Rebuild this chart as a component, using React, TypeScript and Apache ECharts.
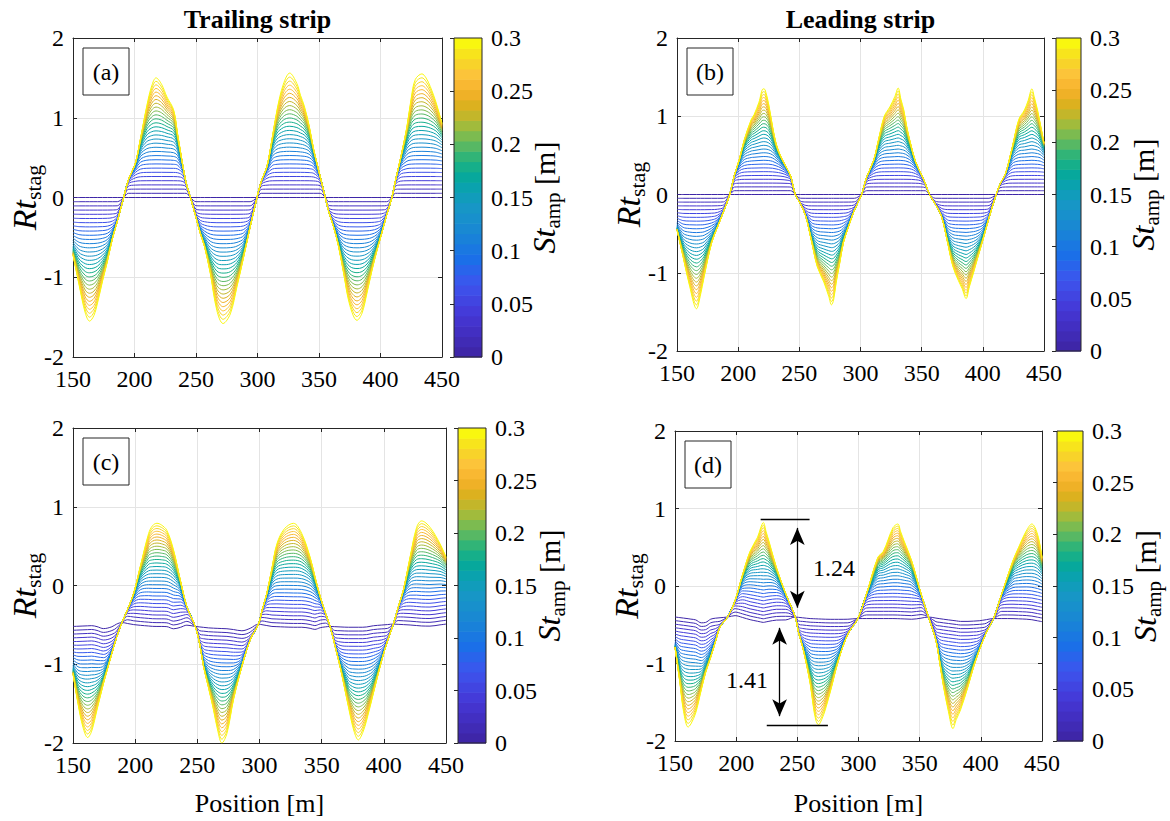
import React, { useEffect, useRef } from "react";
import * as echarts from "echarts";

// ---------------- data ----------------
const stAmpLevels = [0, 0.01, 0.02, 0.03, 0.04, 0.05, 0.06, 0.07, 0.08, 0.09, 0.1, 0.11, 0.12, 0.13, 0.14, 0.15, 0.16, 0.17, 0.18, 0.19, 0.2, 0.21, 0.22, 0.23, 0.24, 0.25, 0.26, 0.27, 0.28, 0.29, 0.3];
const colorbarTicks = [0, 0.05, 0.1, 0.15, 0.2, 0.25, 0.3];
const positionTicks = [150, 200, 250, 300, 350, 400, 450];
const rtTicks = [-2, -1, 0, 1, 2];
const panelTitles = ["Trailing strip", "Leading strip"];
const panelTags = ["(a)", "(b)", "(c)", "(d)"];

// outermost (St_amp = 0.3) curve of each panel: [position, Rt_stag]
const topCurveA: [number, number][] = [[150,-0.72],[155,-1.1],[160,-1.45],[163.5,-1.55],[167,-1.48],[170,-1.32],[174,-1.05],[178,-0.8],[182,-0.52],[186,-0.3],[191.2,0],[195,0.22],[200.7,0.43],[205,0.75],[210,1.15],[214,1.4],[217.5,1.5],[222,1.42],[226.4,1.26],[231.8,1.1],[235,0.8],[239.4,0.39],[242,0.18],[245.5,0],[250,-0.25],[253.5,-0.45],[257,-0.62],[261.6,-0.95],[267,-1.42],[272,-1.58],[277.9,-1.46],[283.3,-1.12],[288.7,-0.75],[294,-0.37],[299.6,0],[303,0.2],[307.7,0.39],[312,0.75],[315.9,1.1],[321,1.42],[326.2,1.56],[332,1.43],[335,1.28],[338,1.15],[342,0.9],[345.7,0.6],[351,0.26],[355.1,0],[358,-0.18],[361.9,-0.37],[366,-0.62],[370,-0.95],[375,-1.35],[380.9,-1.54],[385,-1.45],[389,-1.2],[393,-0.92],[397.2,-0.66],[401,-0.45],[405,-0.22],[409.3,0],[412,0.2],[416,0.47],[421.5,0.89],[425,1.25],[428.3,1.48],[433.7,1.55],[437,1.5],[440.5,1.39],[445,1.2],[450,0.93]];
const topCurveB: [number, number][] = [[150,-0.45],[155,-0.8],[160,-1.15],[166,-1.46],[169,-1.3],[172.2,-1.05],[178.3,-0.62],[183,-0.42],[188,-0.22],[193.1,0],[197,0.25],[201,0.45],[205,0.7],[210.7,0.96],[213,1.02],[217,1.18],[220.5,1.35],[222,1.34],[225,1.15],[228,0.88],[231,0.65],[235,0.48],[240,0.33],[243,0.23],[246.7,0],[251,-0.12],[255.3,-0.28],[260,-0.6],[264.6,-0.92],[270,-1.12],[274,-1.3],[276.3,-1.41],[278,-1.35],[280,-1.14],[283,-0.88],[286,-0.62],[290,-0.42],[295,-0.2],[300.9,0],[305,0.22],[310.8,0.44],[315,0.72],[319.4,1.0],[324,1.12],[328,1.25],[330.8,1.36],[333,1.22],[335.4,1.08],[338,0.85],[341.6,0.61],[345,0.42],[349.3,0.27],[353,0.14],[356.4,0],[361,-0.12],[366.2,-0.28],[371,-0.6],[375.5,-0.92],[380,-1.1],[383,-1.2],[386.3,-1.33],[389,-1.18],[392.4,-1.0],[396,-0.8],[400.1,-0.58],[405,-0.3],[410.9,0],[414,0.13],[418.6,0.27],[424,0.6],[429.4,0.96],[434,1.08],[437,1.2],[440.1,1.35],[442,1.25],[444.7,1.08],[447,0.9],[450,0.66]];
const topCurveC: [number, number][] = [[150,-1.12],[154,-1.5],[158,-1.8],[161.8,-1.93],[165,-1.85],[169.3,-1.58],[174.6,-1.24],[181.3,-0.86],[185,-0.66],[189.4,-0.47],[194,-0.3],[198.8,-0.1],[204.1,0.24],[210.8,0.66],[214,0.76],[217.5,0.79],[221,0.77],[225.5,0.7],[230.9,0.45],[236.3,0.07],[241.6,-0.27],[248.3,-0.52],[252,-0.75],[255,-1.03],[259,-1.3],[263,-1.58],[266.5,-1.85],[269.7,-2.0],[273.8,-1.88],[279.1,-1.45],[285.8,-1.03],[292.5,-0.69],[299.2,-0.49],[302,-0.32],[305.9,-0.1],[310,0.22],[314,0.53],[320,0.72],[327.3,0.79],[334,0.66],[340.7,0.36],[344.5,0.12],[348.8,-0.14],[353,-0.35],[356.8,-0.52],[360.5,-0.75],[364.8,-1.03],[371.5,-1.54],[376,-1.85],[379.5,-1.96],[383,-1.87],[386.2,-1.71],[391.6,-1.37],[398.3,-0.95],[403,-0.7],[407.7,-0.49],[411.5,-0.28],[415.7,-0.06],[421.1,0.36],[426.4,0.74],[430.4,0.82],[437.1,0.74],[445.2,0.53],[450,0.36]];
const topCurveD: [number, number][] = [[150,-0.79],[154,-1.25],[157,-1.62],[160.7,-1.82],[163,-1.78],[166.9,-1.64],[171.5,-1.34],[175,-1.12],[179.2,-0.92],[183,-0.72],[186.8,-0.53],[193,-0.4],[199.1,-0.19],[205.3,0.15],[211.4,0.45],[217.5,0.63],[220,0.75],[222.2,0.82],[224.5,0.7],[226.8,0.58],[232.9,0.24],[240.5,-0.1],[248.3,-0.4],[251,-0.6],[254.4,-0.79],[260.5,-1.26],[263,-1.55],[265.1,-1.73],[267.3,-1.79],[270,-1.72],[272.8,-1.6],[277.4,-1.34],[283.6,-0.96],[291.3,-0.62],[299.5,-0.42],[306.6,-0.1],[315.8,0.37],[320.4,0.45],[328.1,0.75],[332.1,0.8],[334.5,0.7],[337.3,0.58],[343.4,0.33],[351.1,-0.1],[357.2,-0.4],[363.3,-0.7],[366.5,-1.0],[369.5,-1.3],[373.5,-1.62],[377.2,-1.84],[380,-1.72],[383.4,-1.6],[389.5,-1.3],[394,-1.05],[398.7,-0.83],[404.5,-0.6],[410.4,-0.42],[417.1,-0.1],[426.3,0.33],[430.9,0.5],[437.1,0.71],[441.7,0.8],[446.3,0.67],[450,0.37]];

// St_amp = 0 curve of the lower panels (upper panels sit at 0)
const baseCurveC: [number, number][] = [[150,-0.52],[165,-0.51],[172,-0.53],[178,-0.57],[183,-0.5],[189.4,-0.47],[200,-0.5],[215,-0.52],[225,-0.52],[233,-0.56],[240,-0.5],[248.3,-0.52],[260,-0.54],[275,-0.55],[288,-0.58],[299.2,-0.49],[310,-0.52],[325,-0.53],[338,-0.53],[344,-0.56],[350,-0.53],[356.8,-0.52],[370,-0.53],[385,-0.53],[392,-0.51],[400,-0.5],[407.7,-0.49],[420,-0.5],[435,-0.52],[450,-0.49]];
const baseCurveD: [number, number][] = [[150,-0.4],[160,-0.42],[168,-0.44],[173,-0.49],[180,-0.42],[193,-0.4],[200,-0.38],[210,-0.43],[222,-0.47],[232,-0.44],[240,-0.44],[248.3,-0.4],[260,-0.42],[275,-0.43],[290,-0.43],[299.5,-0.42],[315,-0.42],[330,-0.42],[345,-0.43],[357.2,-0.4],[370,-0.43],[385,-0.46],[398,-0.45],[410.4,-0.42],[425,-0.42],[440,-0.43],[450,-0.46]];

// panel (d) annotation
const upperSpanLine: [number, number][] = [[220, 0.86], [260, 0.86]];
const upperArrow: [number, number][] = [[250, 0.75], [250, -0.28]];
const lowerArrow: [number, number][] = [[235.5, -0.54], [235.5, -1.68]];
const lowerSpanLine: [number, number][] = [[225, -1.8], [275, -1.8]];
const spanLabels = ["1.24", "1.41"];

// ---------------- helpers ----------------
const FONT = "Liberation Serif";
const AX = "#262626";

const parulaStops: [number, string][] = [
  [0.0, "#3E26A8"], [0.12, "#4537D6"], [0.22, "#3C55EE"], [0.3, "#1B6FE8"],
  [0.38, "#1985D6"], [0.47, "#1797C5"], [0.53, "#0AA1B0"], [0.58, "#06AB95"],
  [0.63, "#2DB479"], [0.68, "#66BA5C"], [0.73, "#9EBC3E"], [0.77, "#C6B528"],
  [0.81, "#E3AF1C"], [0.85, "#F7B22E"], [0.9, "#FCC43A"], [0.95, "#F6DA22"], [1.0, "#F9F70F"],
];
function hexRgb(h: string) {
  return [parseInt(h.slice(1, 3), 16), parseInt(h.slice(3, 5), 16), parseInt(h.slice(5, 7), 16)];
}
function parula(t: number) {
  t = Math.max(0, Math.min(1, t));
  for (let i = 1; i < parulaStops.length; i++) {
    const [t1, c1] = parulaStops[i];
    const [t0, c0] = parulaStops[i - 1];
    if (t <= t1) {
      const f = (t - t0) / (t1 - t0);
      const a = hexRgb(c0), b = hexRgb(c1);
      return `rgb(${Math.round(a[0] + (b[0] - a[0]) * f)},${Math.round(a[1] + (b[1] - a[1]) * f)},${Math.round(a[2] + (b[2] - a[2]) * f)})`;
    }
  }
  return parulaStops[parulaStops.length - 1][1];
}
function lookup(pts: [number, number][] | null, x: number) {
  if (!pts) return 0;
  if (x <= pts[0][0]) return pts[0][1];
  for (let i = 1; i < pts.length; i++) {
    if (x <= pts[i][0]) {
      const f = (x - pts[i - 1][0]) / (pts[i][0] - pts[i - 1][0]);
      return pts[i - 1][1] + (pts[i][1] - pts[i - 1][1]) * f;
    }
  }
  return pts[pts.length - 1][1];
}
// curves for every St_amp level: saturating between the St=0 curve and the St=0.3 curve
function family(top: [number, number][], base: [number, number][] | null) {
  const p = 3;
  const b = top.map(([x]) => lookup(base, x));
  const s = top.map(([, y], i) => y - b[i]);
  const P = Math.max(...s.map(Math.abs));
  const stMax = stAmpLevels[stAmpLevels.length - 1];
  return stAmpLevels.map((st) => {
    const r = st / stMax;
    if (r >= 1) return top.map(([x, y]) => [x, y]);
    if (r <= 0) return top.map(([x], i) => [x, b[i]]);
    const L = P / Math.pow(Math.pow(1 / r, p) - 1, 1 / p);
    return top.map(([x], i) => [x, b[i] + s[i] / Math.pow(1 + Math.pow(Math.abs(s[i]) / L, p), 1 / p)]);
  });
}

const plots = [
  { left: 73, top: 38, width: 369, height: 319, cbLeft: 454, cbWidth: 28, top_: topCurveA, base: null, ylab: 24, cblab: 544 },
  { left: 677, top: 38, width: 367, height: 313, cbLeft: 1056, cbWidth: 25, top_: topCurveB, base: null, ylab: 628, cblab: 1143 },
  { left: 73, top: 428, width: 373, height: 315, cbLeft: 458, cbWidth: 28, top_: topCurveC, base: baseCurveC, ylab: 24, cblab: 549 },
  { left: 675, top: 431, width: 367, height: 310, cbLeft: 1057, cbWidth: 26, top_: topCurveD, base: baseCurveD, ylab: 626, cblab: 1145 },
];

function buildOption() {
  const grid: any[] = [];
  const xAxis: any[] = [];
  const yAxis: any[] = [];
  const series: any[] = [];
  const graphic: any[] = [];
  const xMin = positionTicks[0], xMax = positionTicks[positionTicks.length - 1];
  const yMin = rtTicks[0], yMax = rtTicks[rtTicks.length - 1];
  const cMin = colorbarTicks[0], cMax = colorbarTicks[colorbarTicks.length - 1];
  const tickLabel = { fontFamily: FONT, fontSize: 24, color: "#000" };

  plots.forEach((pl) => grid.push({ left: pl.left, top: pl.top, width: pl.width, height: pl.height }));
  plots.forEach((pl) => grid.push({ left: pl.cbLeft, top: pl.top, width: pl.cbWidth, height: pl.height }));

  plots.forEach((pl, p) => {
    const common = {
      type: "value", gridIndex: p,
      axisLine: { show: true, onZero: false, lineStyle: { color: AX, width: 1 } },
      axisTick: { show: true, inside: true, length: 4, lineStyle: { color: AX } },
    };
    xAxis.push({ ...common, position: "bottom", min: xMin, max: xMax, interval: positionTicks[1] - positionTicks[0],
      axisLabel: { ...tickLabel, margin: 10 }, splitLine: { show: true, lineStyle: { color: "#e4e4e4", width: 1 } } });
    xAxis.push({ ...common, position: "top", min: xMin, max: xMax, interval: positionTicks[1] - positionTicks[0],
      axisLabel: { show: false }, splitLine: { show: false } });
    yAxis.push({ ...common, position: "left", min: yMin, max: yMax, interval: rtTicks[1] - rtTicks[0],
      axisLabel: { ...tickLabel, margin: 9 }, splitLine: { show: true, lineStyle: { color: "#e4e4e4", width: 1 } } });
    yAxis.push({ ...common, position: "right", min: yMin, max: yMax, interval: rtTicks[1] - rtTicks[0],
      axisLabel: { show: false }, splitLine: { show: false } });
  });
  plots.forEach((pl, p) => {
    xAxis.push({ type: "value", gridIndex: 4 + p, min: 0, max: 1, show: false });
    yAxis.push({ type: "value", gridIndex: 4 + p, position: "right", min: cMin, max: cMax,
      interval: colorbarTicks[1] - colorbarTicks[0], z: 10,
      axisLine: { show: false }, splitLine: { show: false },
      axisTick: { show: true, inside: true, length: 4, lineStyle: { color: AX } },
      axisLabel: { ...tickLabel, margin: 9, formatter: (v: number) => String(Math.round(v * 100) / 100) } });
  });

  plots.forEach((pl, p) => {
    const curves = family(pl.top_, pl.base);
    curves.forEach((data, k) => {
      series.push({
        type: "line", xAxisIndex: 2 * p, yAxisIndex: 2 * p, data,
        symbol: "none", showSymbol: false, smooth: 0.35, silent: true, clip: true,
        lineStyle: { width: 1, color: parula(stAmpLevels[k] / cMax) },
        z: 2,
      });
    });
  });

  // annotation of panel (d)
  const seg = (pts: [number, number][], sym: string) => [
    { coord: pts[0], symbol: sym }, { coord: pts[1], symbol: sym },
  ];
  series.push({
    type: "line", xAxisIndex: 6, yAxisIndex: 6, data: [], silent: true,
    markLine: {
      silent: true, animation: false, label: { show: false }, symbolSize: [11, 17],
      lineStyle: { color: "#000", width: 1.3, type: "solid" }, itemStyle: { color: "#000" },
      data: [seg(upperSpanLine, "none"), seg(upperArrow, "arrow"), seg(lowerArrow, "arrow"), seg(lowerSpanLine, "none")],
    },
    z: 5,
  });

  // colorbars
  const nBands = stAmpLevels.length;
  const bandData = stAmpLevels.map((_, j) => [j, cMin + (j * (cMax - cMin)) / nBands, cMin + ((j + 1) * (cMax - cMin)) / nBands]);
  const bandColors = stAmpLevels.map((_, j) => parula(j / (nBands - 1)));
  plots.forEach((pl, p) => {
    series.push({
      type: "custom", xAxisIndex: 8 + p, yAxisIndex: 8 + p, data: bandData, silent: true,
      renderItem: (params: any, api: any) => {
        const j = api.value(0);
        const lo = api.coord([0, api.value(1)]);
        const hi = api.coord([1, api.value(2)]);
        return { type: "rect", shape: { x: lo[0], y: hi[1], width: hi[0] - lo[0], height: lo[1] - hi[1] + 0.6 },
          style: { fill: bandColors[j] } };
      },
    });
    graphic.push({ type: "rect", z: 100, shape: { x: pl.cbLeft, y: pl.top, width: pl.cbWidth, height: pl.height },
      style: { fill: "none", stroke: AX, lineWidth: 1 } });
    // panel tag
    graphic.push({ type: "rect", z: 100, shape: { x: pl.left + 10, y: pl.top + 10, width: 46, height: 47 },
      style: { fill: "#fff", stroke: AX, lineWidth: 1 } });
    graphic.push({ type: "text", z: 101, x: pl.left + 33, y: pl.top + 34,
      style: { text: panelTags[p], fontFamily: FONT, fontSize: 24, fill: "#000", align: "center", verticalAlign: "middle" } });
    // y label
    graphic.push({ type: "text", z: 101, x: pl.ylab, y: pl.top + pl.height / 2, rotation: Math.PI / 2,
      style: { text: "{i|Rt}{s|stag}", align: "center", verticalAlign: "middle",
        rich: {
          i: { fontFamily: FONT, fontStyle: "italic", fontSize: 34, lineHeight: 40, verticalAlign: "middle", fill: "#000" },
          s: { fontFamily: FONT, fontSize: 22, lineHeight: 14, verticalAlign: "bottom", fill: "#000" },
        } } });
    // colorbar label
    graphic.push({ type: "text", z: 101, x: pl.cblab, y: pl.top + pl.height / 2, rotation: Math.PI / 2,
      style: { text: "{i|St}{s|amp}{r| [m]}", align: "center", verticalAlign: "middle",
        rich: {
          i: { fontFamily: FONT, fontStyle: "italic", fontSize: 32, lineHeight: 38, verticalAlign: "middle", fill: "#000" },
          s: { fontFamily: FONT, fontSize: 21, lineHeight: 14, verticalAlign: "bottom", fill: "#000" },
          r: { fontFamily: FONT, fontSize: 30, lineHeight: 38, verticalAlign: "middle", fill: "#000" },
        } } });
  });

  // titles
  [0, 1].forEach((p) => {
    const pl = plots[p];
    graphic.push({ type: "text", z: 101, x: pl.left + pl.width / 2, y: 19,
      style: { text: panelTitles[p], fontFamily: FONT, fontSize: 26, fontWeight: "bold", fill: "#000", align: "center", verticalAlign: "middle" } });
  });
  [2, 3].forEach((p) => {
    const pl = plots[p];
    graphic.push({ type: "text", z: 101, x: pl.left + pl.width / 2, y: 803,
      style: { text: "Position [m]", fontFamily: FONT, fontSize: 26, fill: "#000", align: "center", verticalAlign: "middle" } });
  });
  graphic.push({ type: "text", z: 101, x: 813, y: 568,
    style: { text: spanLabels[0], fontFamily: FONT, fontSize: 24, fill: "#000", align: "left", verticalAlign: "middle" } });
  graphic.push({ type: "text", z: 101, x: 768, y: 680,
    style: { text: spanLabels[1], fontFamily: FONT, fontSize: 24, fill: "#000", align: "right", verticalAlign: "middle" } });

  return { animation: false, backgroundColor: "#fff", grid, xAxis, yAxis, series, graphic };
}

export default function App() {
  const ref = useRef<HTMLDivElement>(null);
  useEffect(() => {
    if (!ref.current) return;
    const chart = echarts.init(ref.current, undefined, { renderer: "svg" });
    chart.setOption(buildOption() as any);
    return () => chart.dispose();
  }, []);
  return <div ref={ref} style={{ position: "fixed", left: 0, top: 0, width: 1170, height: 821, background: "#fff" }} />;
}
